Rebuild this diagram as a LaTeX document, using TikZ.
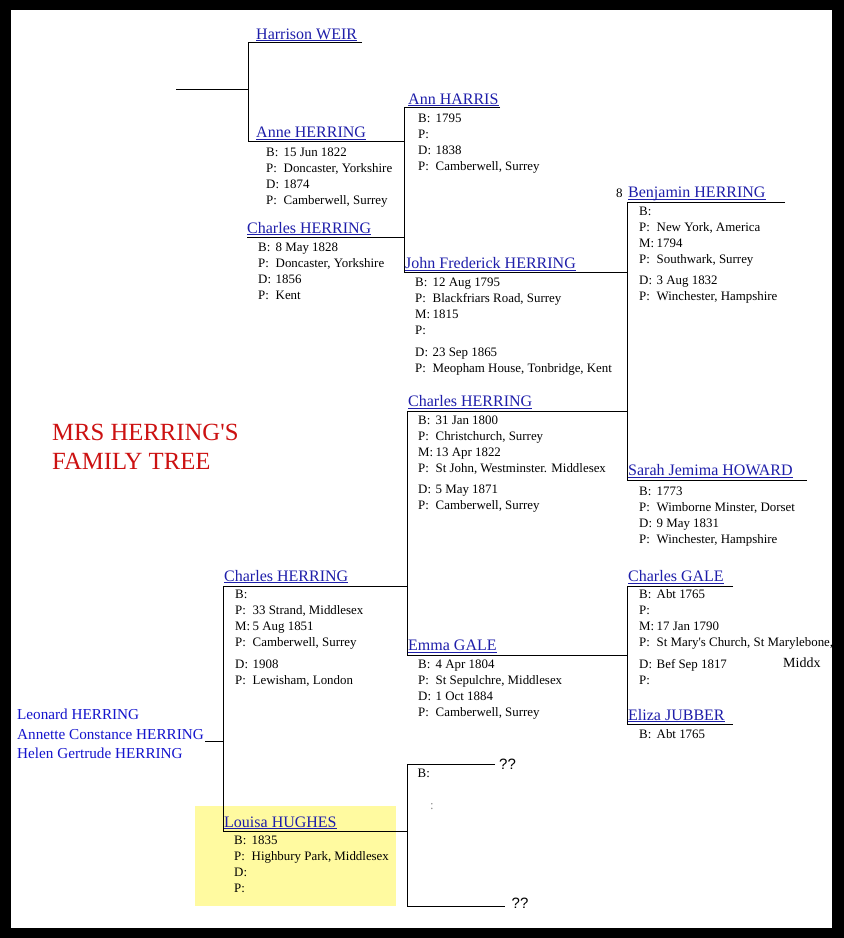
\documentclass[tikz,border=0pt]{standalone}
\usepackage{fontspec}
\setmainfont{Liberation Serif}
\newfontfamily\qsans{Liberation Sans}
\definecolor{nameblue}{RGB}{30,30,170}
\definecolor{kidblue}{RGB}{20,20,205}
\definecolor{titlered}{RGB}{204,17,17}
\definecolor{hiyellow}{RGB}{255,250,160}
\newcommand\dl[2]{\strut\makebox[17.5pt][l]{#1}#2}
\tikzset{
  conn/.style={line width=1pt, black},
  pname/.style={anchor=base west, inner sep=0pt, text=nameblue, font=\fontsize{16}{19}\selectfont},
  info/.style={anchor=north west, inner sep=0pt, align=left, font=\fontsize{12.9}{16}\selectfont},
  kid/.style={anchor=base west, inner sep=0pt, text=kidblue, font=\fontsize{15.2}{18}\selectfont},
  uline/.style={nameblue, line width=0.8pt},
  title/.style={anchor=base west, inner sep=0pt, text=titlered, font=\fontsize{24.7}{28}\selectfont},
  qq/.style={anchor=base west, inner sep=0pt, font=\qsans\fontsize{15}{18}\selectfont},
}
\begin{document}
\begin{tikzpicture}[x=1pt,y=-1pt]
\useasboundingbox (0,0) rectangle (844,938);
\fill[black] (0,0) rectangle (844,938);
\fill[white] (11,10) rectangle (832,928);
\fill[hiyellow] (195,806) rectangle (396,906);

% ---------- title ----------
\node[title] (t1) at (52,440) {MRS HERRING\textquotesingle S};
\node[title] (t2) at (52,469) {FAMILY TREE};

% ---------- names ----------
\node[pname] (hw) at (256,39) {Harrison WEIR};
\node[pname] (ah) at (256,137.5) {Anne HERRING};
\node[pname] (c28) at (247,233) {Charles HERRING};
\node[pname] (aha) at (408,104) {Ann HARRIS};
\node[pname] (jf) at (405,268.5) {John Frederick HERRING};
\node[anchor=base west, inner sep=0pt, font=\fontsize{13}{16}\selectfont] (eight) at (616,197) {8};
\node[pname] (bh) at (628,197.5) {Benjamin HERRING};
\node[pname] (c00) at (408,406.5) {Charles HERRING};
\node[pname] (sh) at (628,475.5) {Sarah Jemima HOWARD};
\node[pname] (c51) at (224,581) {Charles HERRING};
\node[pname] (eg) at (408,650.5) {Emma GALE};
\node[pname] (cg) at (628,581.5) {Charles GALE};
\node[pname] (ej) at (628,720) {Eliza JUBBER};
\node[pname] (lh) at (224,827) {Louisa HUGHES};

\foreach \n in {hw,ah,c28,aha,jf,bh,c00,sh,c51,eg,cg,ej,lh}
  \draw[uline] ([yshift=-1.8pt]\n.base west) -- ([yshift=-1.8pt]\n.base east);

% ---------- details ----------
\node[info] (ahd) at (266,145.1) {\dl{B:}{15 Jun 1822}\\\dl{P:}{Doncaster, Yorkshire}\\\dl{D:}{1874}\\\dl{P:}{Camberwell, Surrey}};
\node[info] (c28d) at (258,239.6) {\dl{B:}{8 May 1828}\\\dl{P:}{Doncaster, Yorkshire}\\\dl{D:}{1856}\\\dl{P:}{Kent}};
\node[info] (ahad) at (418,111.4) {\dl{B:}{1795}\\\dl{P:}{}\\\dl{D:}{1838}\\\dl{P:}{Camberwell, Surrey}};
\node[info] (jfd) at (415,274.6) {\dl{B:}{12 Aug 1795}\\\dl{P:}{Blackfriars Road, Surrey}\\\dl{M:}{1815}\\\dl{P:}{}\\[6pt]\dl{D:}{23 Sep 1865}\\\dl{P:}{Meopham House, Tonbridge, Kent}};
\node[info] (bhd) at (639,204.1) {\dl{B:}{}\\\dl{P:}{New York, America}\\\dl{M:}{1794}\\\dl{P:}{Southwark, Surrey}\\[5pt]\dl{D:}{3 Aug 1832}\\\dl{P:}{Winchester, Hampshire}};
\node[info] (c00d) at (418,413.1) {\dl{B:}{31 Jan 1800}\\\dl{P:}{Christchurch, Surrey}\\\dl{M:}{13 Apr 1822}\\\dl{P:}{St John, Westminster. Middlesex}\\[5pt]\dl{D:}{5 May 1871}\\\dl{P:}{Camberwell, Surrey}};
\node[info] (shd) at (639,483.6) {\dl{B:}{1773}\\\dl{P:}{Wimborne Minster, Dorset}\\\dl{D:}{9 May 1831}\\\dl{P:}{Winchester, Hampshire}};
\node[info] (cgd) at (639,586.6) {\dl{B:}{Abt 1765}\\\dl{P:}{}\\\dl{M:}{17 Jan 1790}\\\dl{P:}{St Mary\textquotesingle s Church, St Marylebone,}\\[6pt]\dl{D:}{Bef Sep 1817}\\\dl{P:}{}};
\node[anchor=base west, inner sep=0pt, font=\fontsize{14}{17}\selectfont] (middx) at (783,667) {Middx};
\node[info] (ejd) at (639,727.1) {\dl{B:}{Abt 1765}};
\node[info] (egd) at (418,657.1) {\dl{B:}{4 Apr 1804}\\\dl{P:}{St Sepulchre, Middlesex}\\\dl{D:}{1 Oct 1884}\\\dl{P:}{Camberwell, Surrey}};
\node[info] (c51d) at (235,586.6) {\dl{B:}{}\\\dl{P:}{33 Strand, Middlesex}\\\dl{M:}{5 Aug 1851}\\\dl{P:}{Camberwell, Surrey}\\[6pt]\dl{D:}{1908}\\\dl{P:}{Lewisham, London}};
\node[info] (lhd) at (234,833.1) {\dl{B:}{1835}\\\dl{P:}{Highbury Park, Middlesex}\\\dl{D:}{}\\\dl{P:}{}};
\node[info] (ud) at (417.5,766.1) {\dl{B:}{}};
\node[anchor=base west, inner sep=0pt, text=black!45, font=\fontsize{12.9}{16}\selectfont] (colon) at (430,809) {:};

% ---------- children ----------
\node[kid] (k1) at (17,719) {Leonard HERRING};
\node[kid] (k2) at (17,739) {Annette Constance HERRING};
\node[kid] (k3) at (17,758.5) {Helen Gertrude HERRING};

% ---------- unknown parents ----------
\node[qq] (q1) at (499,769) {??};
\node[qq] (q2) at (511.5,908) {??};

% ---------- connector points ----------
\coordinate (stubW) at (176,89);
\coordinate (stubE) at (248,89);
\coordinate (hwE) at (362,42);
\coordinate (hwW) at (248,42);
\coordinate (ahW) at (248,141);
\coordinate (ahE) at (404,141);
\coordinate (c28W) at (247,237);
\coordinate (c28E) at (404,237);
\coordinate (ahaE) at (500,107);
\coordinate (ahaW) at (404,107);
\coordinate (jfW) at (404,272);
\coordinate (jfE) at (627,272);
\coordinate (bhE) at (785,202);
\coordinate (bhW) at (627,202);
\coordinate (shW) at (627,480);
\coordinate (shE) at (807,480);
\coordinate (c00W) at (407,411);
\coordinate (c00E) at (627,411);
\coordinate (egW) at (407,655);
\coordinate (egE) at (627,655);
\coordinate (cgE) at (733,586);
\coordinate (cgW) at (627,586);
\coordinate (ejW) at (627,724);
\coordinate (ejE) at (733,724);
\coordinate (c51E) at (407,586);
\coordinate (c51W) at (223,586);
\coordinate (lhW) at (223,831);
\coordinate (lhE) at (407,831);
\coordinate (kidE) at (205,741);
\coordinate (kidJ) at (223,741);
\coordinate (u1E) at (495,764);
\coordinate (u1W) at (407,764);
\coordinate (u2W) at (407,906);
\coordinate (u2E) at (505,906);

% ---------- connectors ----------
\draw[conn] (stubW) -- (stubE);
\draw[conn] (hwE) -- (hwW) -- (ahW) -- (ahE);
\draw[conn] (c28W) -- (c28E);
\draw[conn] (ahaE) -- (ahaW) -- (jfW) -- (jfE);
\draw[conn] (bhE) -- (bhW) -- (shW) -- (shE);
\draw[conn] (c00E) -- (c00W) -- (egW) -- (egE);
\draw[conn] (cgE) -- (cgW) -- (ejW) -- (ejE);
\draw[conn] (c51E) -- (c51W) -- (lhW) -- (lhE);
\draw[conn] (kidE) -- (kidJ);
\draw[conn] (u1E) -- (u1W) -- (u2W) -- (u2E);
\end{tikzpicture}
\end{document}
